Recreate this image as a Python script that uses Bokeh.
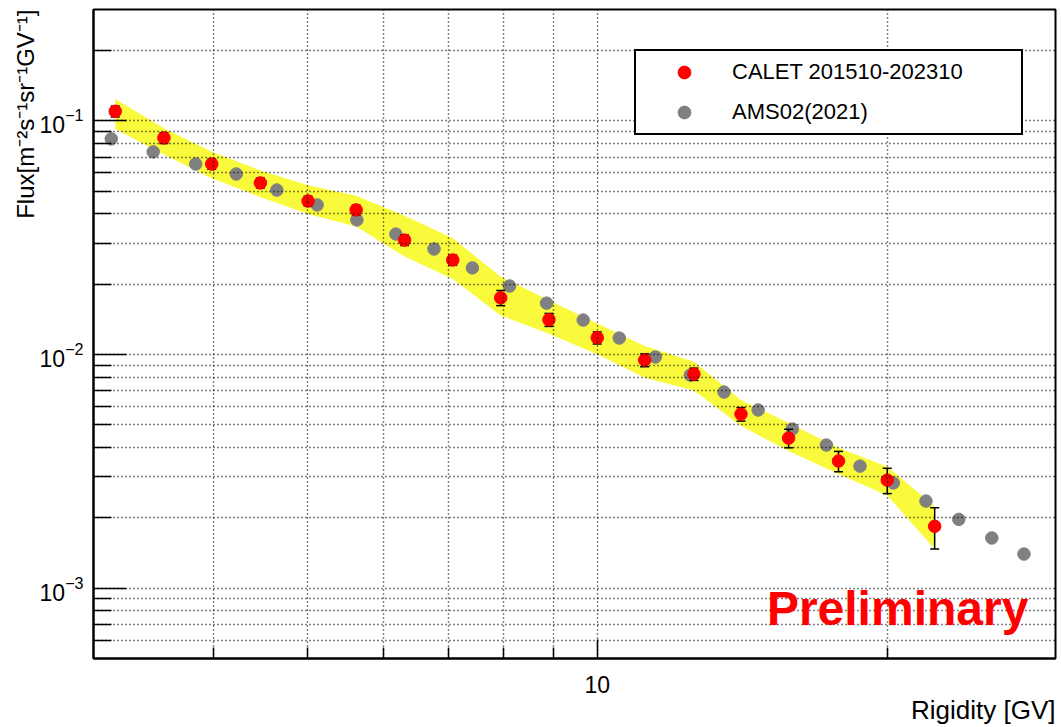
import numpy as np

from bokeh.plotting import figure
from bokeh.models import FixedTicker, Legend, LegendItem, Label, Title, ColumnDataSource
from bokeh.embed import file_html
from bokeh.resources import INLINE

# CALET 2015/10 - 2023/10 flux
calet_rigidity = [3.16, 3.55, 3.98, 4.47, 5.01, 5.62, 6.31, 7.08, 7.94, 8.91,
                  10.0, 11.2, 12.6, 14.1, 15.8, 17.8, 20.0, 22.4]
calet_flux = [0.110, 0.0846, 0.0654, 0.0543, 0.0454, 0.0416, 0.0309, 0.0254, 0.0175, 0.0141,
              0.0118, 0.00947, 0.00825, 0.00556, 0.00439, 0.00350, 0.00290, 0.00184]
# statistical errors (absolute)
calet_stat = [0.0060, 0.0045, 0.0033, 0.0027, 0.0022, 0.0020, 0.0016, 0.0013, 0.0013, 0.0009,
              0.0007, 0.0006, 0.0005, 0.00037, 0.00040, 0.00035, 0.00036, 0.00037]
# systematic band (relative)
calet_sys_up = [0.13, 0.10, 0.13, 0.13, 0.17, 0.15, 0.27, 0.24, 0.23, 0.21,
                0.15, 0.15, 0.13, 0.15, 0.16, 0.14, 0.14, 0.22]
calet_sys_low = [0.16, 0.15, 0.13, 0.13, 0.12, 0.15, 0.15, 0.17, 0.16, 0.13,
                 0.15, 0.16, 0.15, 0.11, 0.12, 0.12, 0.14, 0.20]

# AMS-02 (2021)
ams_rigidity = [3.13, 3.46, 3.83, 4.22, 4.65, 5.12, 5.63, 6.18, 6.77, 7.42, 8.11, 8.86, 9.67,
                10.54, 11.49, 12.49, 13.54, 14.69, 15.94, 17.29, 18.74, 20.29, 21.94, 23.73,
                25.68, 27.73]
ams_flux = [0.0838, 0.0737, 0.0654, 0.0593, 0.0506, 0.0437, 0.0377, 0.0328, 0.0283, 0.0235,
            0.01965, 0.0166, 0.01405, 0.01177, 0.00976, 0.00817, 0.00691, 0.00579, 0.00480,
            0.00410, 0.00333, 0.00282, 0.00236, 0.00197, 0.00164, 0.00140]

# axis ticks
x_major = [10]
x_minor = [4, 5, 6, 7, 8, 9, 20]
y_major = [0.1, 0.01, 0.001]
y_minor = [0.2, 0.09, 0.08, 0.07, 0.06, 0.05, 0.04, 0.03, 0.02,
           0.009, 0.008, 0.007, 0.006, 0.005, 0.004, 0.003, 0.002,
           0.0009, 0.0008, 0.0007, 0.0006]

FONT = "Liberation Sans"
X_RANGE = (3.0, 29.9)
Y_RANGE = (5e-4, 0.3)

p = figure(width=1061, height=727, x_axis_type="log", y_axis_type="log",
           x_range=X_RANGE, y_range=Y_RANGE,
           output_backend="svg", toolbar_location=None,
           min_border_left=93, min_border_right=6, min_border_top=9, min_border_bottom=69)
p.background_fill_color = "white"
p.border_fill_color = "white"
p.outline_line_color = "black"
p.outline_line_width = 2

# axes
p.xaxis.ticker = FixedTicker(ticks=x_major, minor_ticks=x_minor)
p.yaxis.ticker = FixedTicker(ticks=y_major, minor_ticks=y_minor)
p.xaxis.major_label_overrides = {10: "10"}
for ax in (p.xaxis, p.yaxis):
    ax.axis_line_color = "black"
    ax.axis_line_width = 2
    ax.major_tick_out = 0
    ax.minor_tick_out = 0
    ax.major_tick_line_color = "black"
    ax.minor_tick_line_color = "black"
    ax.major_tick_line_width = 1.5
    ax.minor_tick_line_width = 1.5
    ax.major_label_text_font = FONT
    ax.major_label_text_font_size = "23px"
    ax.major_label_text_color = "black"
p.xaxis.major_tick_in = 19
p.xaxis.minor_tick_in = 11
p.yaxis.major_tick_in = 33
p.yaxis.minor_tick_in = 18
p.xaxis.major_label_standoff = 17
p.yaxis.major_label_standoff = 10

# dotted grid on every tick
for g in (p.xgrid, p.ygrid):
    g.grid_line_color = "black"
    g.grid_line_dash = "1 3"
    g.grid_line_width = 1.4
    g.minor_grid_line_color = "black"
    g.minor_grid_line_dash = "1 3"
    g.minor_grid_line_width = 1.4
    g.level = "glyph"

# axis titles, placed at the far ends of the axes
p.add_layout(Title(text="Rigidity [GV]", align="right", standoff=-6,
                   text_font=FONT, text_font_size="26px", text_font_style="normal",
                   text_color="black"), "below")
p.add_layout(Title(text="Flux[m\u207b\u00b2s\u207b\u00b9sr\u207b\u00b9GV\u207b\u00b9]", align="right",
                   standoff=-5, text_font=FONT, text_font_size="24px", text_font_style="normal",
                   text_color="black"), "left")

# systematic error band
c_r = np.array(calet_rigidity)
c_f = np.array(calet_flux)
band_hi = c_f * (1 + np.array(calet_sys_up))
band_lo = c_f * (1 - np.array(calet_sys_low))
band = p.patch(np.concatenate([c_r, c_r[::-1]]), np.concatenate([band_hi, band_lo[::-1]]),
               fill_color="#fafa3c", fill_alpha=1.0, line_color=None, level="underlay")

# AMS-02 points
ams = p.scatter(ams_rigidity, ams_flux, marker="circle", size=12.5,
                fill_color="#808080", line_color="#808080")

# CALET statistical error bars
c_err = np.array(calet_stat)
err_src = ColumnDataSource(dict(x=c_r, lo=c_f - c_err, hi=c_f + c_err))
p.segment(x0="x", y0="lo", x1="x", y1="hi", source=err_src, line_color="black", line_width=1.5)
p.scatter(x="x", y="lo", source=err_src, marker="dash", size=9, line_color="black", line_width=1.5)
p.scatter(x="x", y="hi", source=err_src, marker="dash", size=9, line_color="black", line_width=1.5)

# CALET points
calet = p.scatter(calet_rigidity, calet_flux, marker="circle", size=12.5,
                  fill_color="#ff0000", line_color="#ff0000")

legend = Legend(items=[LegendItem(label="CALET 201510-202310", renderers=[calet]),
                       LegendItem(label="AMS02(2021)", renderers=[ams])],
                location=(541, 523), margin=0, padding=5, spacing=8,
                glyph_width=86, glyph_height=32, label_height=32, label_width=284,
                label_standoff=5,
                label_text_font=FONT, label_text_font_size="22px", label_text_color="black",
                border_line_color="black", border_line_width=2, border_line_alpha=1.0,
                background_fill_color="white", background_fill_alpha=1.0)
p.add_layout(legend, "center")

p.add_layout(Label(x=15.0, y=8.2e-4, text="Preliminary", text_align="left",
                   text_baseline="alphabetic", text_font=FONT, text_font_size="48px",
                   text_font_style="bold", text_color="#ff0000"))

open("out.html", "w").write(file_html(p, INLINE))
